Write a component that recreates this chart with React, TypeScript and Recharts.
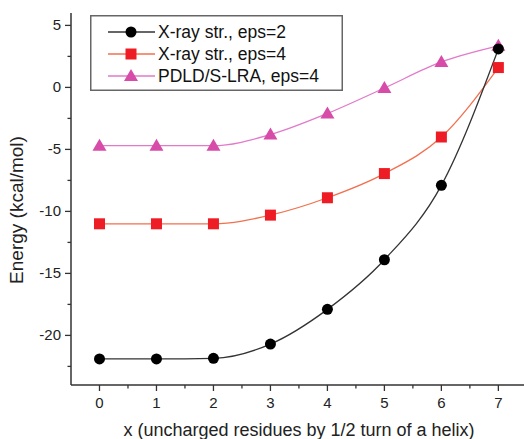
import { LineChart, Line, XAxis, YAxis } from 'recharts'

const xValues = [0, 1, 2, 3, 4, 5, 6, 7]
const xray2 = [-21.9, -21.9, -21.85, -20.7, -17.9, -13.9, -7.9, 3.1]
const xray4 = [-11.0, -11.0, -11.0, -10.3, -8.9, -6.95, -4.0, 1.6]
const pdld4 = [-4.7, -4.7, -4.7, -3.8, -2.1, -0.05, 2.05, 3.35]

const xTicks = [0, 0.5, 1, 1.5, 2, 2.5, 3, 3.5, 4, 4.5, 5, 5.5, 6, 6.5, 7]
const yTicks = [-22.5, -20, -17.5, -15, -12.5, -10, -7.5, -5, -2.5, 0, 2.5, 5]

const seriesNames = ['X-ray str., eps=2', 'X-ray str., eps=4', 'PDLD/S-LRA, eps=4']

const data = xValues.map((x, i) => ({
  x,
  a: xray2[i],
  b: xray4[i],
  c: pdld4[i]
}))

const AXIS_X = 71
const AXIS_Y = 385
const FONT = '"Liberation Sans", Arial, sans-serif'

const YTick = (props: any) => {
  const { y, payload } = props
  const major = payload.value % 5 === 0
  return (
    <g>
      <line x1={AXIS_X} x2={AXIS_X - (major ? 6 : 3.5)} y1={y} y2={y} stroke="#333" strokeWidth={1.3} />
      {major && (
        <text x={61} y={y + 5} textAnchor="end" fontSize={15} fontFamily={FONT} fill="#222">
          {payload.value}
        </text>
      )}
    </g>
  )
}

const XTick = (props: any) => {
  const { x, payload } = props
  const major = Number.isInteger(payload.value)
  return (
    <g>
      <line x1={x} x2={x} y1={AXIS_Y} y2={AXIS_Y + (major ? 6 : 3.5)} stroke="#333" strokeWidth={1.3} />
      {major && (
        <text x={x} y={408} textAnchor="middle" fontSize={15} fontFamily={FONT} fill="#222">
          {payload.value}
        </text>
      )}
    </g>
  )
}

const YTitle = () => (
  <text x={23} y={210} transform="rotate(-90 23 210)" textAnchor="middle" fontSize={19} fontFamily={FONT} fill="#222">
    Energy (kcal/mol)
  </text>
)

const XTitle = () => (
  <text x={299} y={436} textAnchor="middle" fontSize={18} fontFamily={FONT} fill="#222">
    x (uncharged residues by 1/2 turn of a helix)
  </text>
)

const CircleDot = (props: any) => {
  const { cx, cy } = props
  if (cx == null || cy == null) return null
  return <circle cx={cx} cy={cy} r={5.5} fill="#000" />
}

const SquareDot = (props: any) => {
  const { cx, cy } = props
  if (cx == null || cy == null) return null
  return <rect x={cx - 5.5} y={cy - 5.5} width={11} height={11} fill="#ee1c24" />
}

const TriangleDot = (props: any) => {
  const { cx, cy } = props
  if (cx == null || cy == null) return null
  return <polygon points={`${cx},${cy - 7} ${cx - 7},${cy + 5} ${cx + 7},${cy + 5}`} fill="#d64ca8" />
}

const legendRows = [
  { name: seriesNames[0], line: '#333', marker: 'circle' },
  { name: seriesNames[1], line: '#f2704f', marker: 'square' },
  { name: seriesNames[2], line: '#e27ac8', marker: 'triangle' }
]

// legend drawn as an overlay so it doesn't eat plot space
const LegendBox = () => (
  <svg width={253} height={76} style={{ position: 'absolute', left: 90, top: 15 }}>
    <rect x={0.75} y={0.75} width={251.5} height={74.5} fill="#fff" stroke="#666" strokeWidth={1.5} />
    {legendRows.map((r, i) => {
      const cy = 17 + i * 22
      return (
        <g key={r.name}>
          <line x1={18} x2={65} y1={cy} y2={cy} stroke={r.line} strokeWidth={1.3} />
          {r.marker === 'circle' && <CircleDot cx={41} cy={cy} />}
          {r.marker === 'square' && <SquareDot cx={41} cy={cy} />}
          {r.marker === 'triangle' && <TriangleDot cx={41} cy={cy} />}
          <text x={68} y={cy + 6} fontSize={17.5} fontFamily={FONT} fill="#111">
            {r.name}
          </text>
        </g>
      )
    })}
  </svg>
)

export default function App() {
  return (
    <div style={{ position: 'absolute', left: 0, top: 0, width: 524, height: 439, background: '#fff' }}>
      <LineChart width={524} height={439} data={data} margin={{ top: 13, right: 0, left: 0, bottom: 0 }}>
        <XAxis
          dataKey="x"
          type="number"
          domain={[-0.5, 7.45]}
          ticks={xTicks}
          interval={0}
          tick={<XTick />}
          tickLine={false}
          height={54}
          stroke="#333"
          strokeWidth={1.5}
          allowDataOverflow
          label={<XTitle />}
        />
        <YAxis
          type="number"
          domain={[-24, 6]}
          ticks={yTicks}
          interval={0}
          tick={<YTick />}
          tickLine={false}
          width={71}
          stroke="#333"
          strokeWidth={1.5}
          allowDataOverflow
          label={<YTitle />}
        />
        <Line type="monotone" dataKey="b" name={seriesNames[1]} stroke="#f2704f" strokeWidth={1.3} dot={<SquareDot />} activeDot={false} isAnimationActive={false} />
        <Line type="monotone" dataKey="c" name={seriesNames[2]} stroke="#e27ac8" strokeWidth={1.3} dot={<TriangleDot />} activeDot={false} isAnimationActive={false} />
        <Line type="monotone" dataKey="a" name={seriesNames[0]} stroke="#333" strokeWidth={1.3} dot={<CircleDot />} activeDot={false} isAnimationActive={false} />
      </LineChart>
      <LegendBox />
    </div>
  )
}
